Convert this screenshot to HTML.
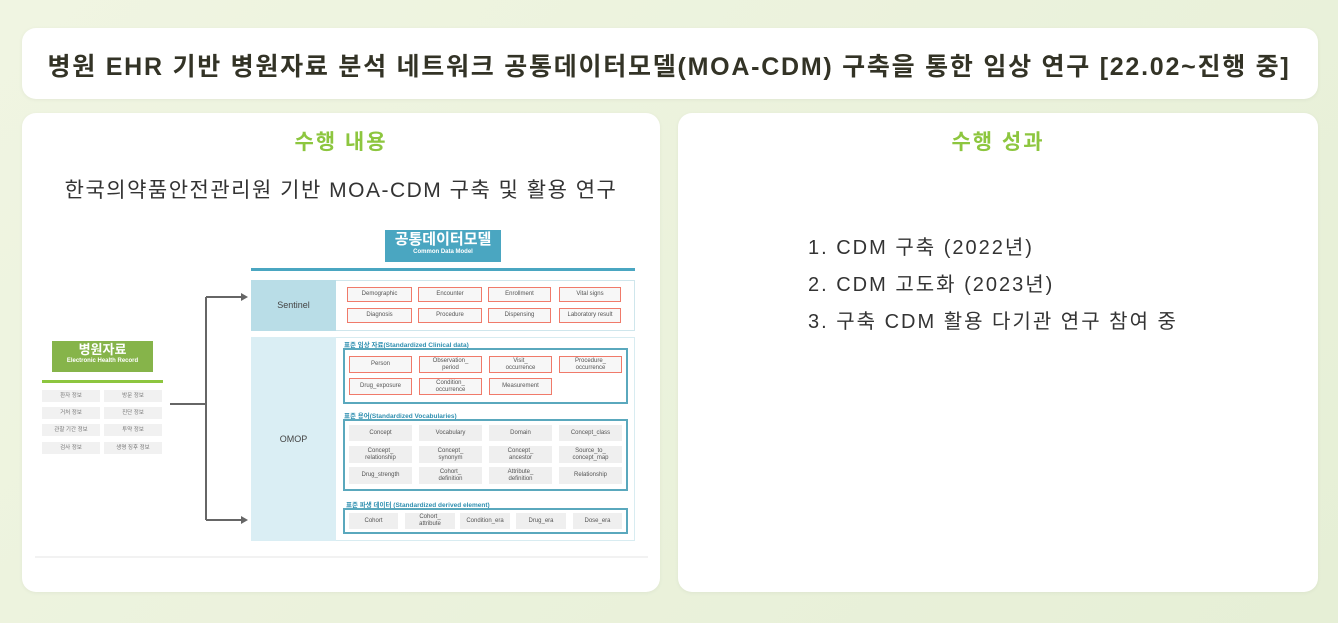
<!DOCTYPE html>
<html><head><meta charset="utf-8"><style>
*{margin:0;padding:0;box-sizing:border-box}
body{width:1338px;height:623px;background:linear-gradient(135deg,#f0f5e2,#e6efd6);font-family:"Liberation Sans","Noto Sans CJK KR",sans-serif;position:relative;overflow:hidden}
.a{position:absolute}
.card{position:absolute;background:#fff;border-radius:14px;box-shadow:0 1px 4px rgba(0,0,0,.05)}
.t{position:absolute;left:0;right:0;text-align:center}
.b{position:absolute;font-size:6px;color:#555;text-align:center;display:flex;align-items:center;justify-content:center;line-height:7px;background:#f2f2f2}
.r{border:1.5px solid #f07a6a;background:#f7f7f7}
.g{background:#efefef}
.box{position:absolute;border:2px solid #5aa8bd}
.lbl{position:absolute;font-size:6.5px;color:#2f8fb0;font-weight:bold;white-space:nowrap}
.eh{position:absolute;font-size:5.5px;color:#777;background:#f1f1f1;text-align:center;line-height:12px;width:58px;height:12px}
</style></head><body>
<div class="card" style="left:22px;top:28px;width:1296px;height:71px"></div>
<div class="t" style="top:47px;font-size:25px;font-weight:bold;color:#333326;letter-spacing:1.75px">병원 EHR 기반 병원자료 분석 네트워크 공통데이터모델(MOA-CDM) 구축을 통한 임상 연구 [22.02~진행 중]</div>

<div class="card" style="left:22px;top:113px;width:638px;height:479px"></div>
<div class="card" style="left:678px;top:113px;width:640px;height:479px"></div>
<div class="a" style="left:22px;width:638px;top:126px;text-align:center;font-size:21px;font-weight:bold;color:#8dc63f;letter-spacing:2px">수행 내용</div>
<div class="a" style="left:678px;width:640px;top:126px;text-align:center;font-size:21px;font-weight:bold;color:#8dc63f;letter-spacing:2px">수행 성과</div>
<div class="a" style="left:22px;width:638px;top:174px;text-align:center;font-size:21px;color:#333;letter-spacing:1.5px">한국의약품안전관리원 기반 MOA-CDM 구축 및 활용 연구</div>
<div class="a" style="left:808px;top:230px;font-size:20px;color:#333;line-height:37px;letter-spacing:2px">1. CDM 구축 (2022년)<br>2. CDM 고도화 (2023년)<br>3. 구축 CDM 활용 다기관 연구 참여 중</div>

<!-- diagram -->
<div class="a" style="left:385px;top:230px;width:116px;height:32px;background:#4aa6c1;color:#fff;text-align:center">
<div style="font-size:15px;font-weight:bold;line-height:19px">공통데이터모델</div><div style="font-size:6px;font-weight:bold">Common Data Model</div></div>
<div class="a" style="left:251px;top:268px;width:384px;height:3px;background:#4aa6c1"></div>

<div class="a" style="left:251px;top:280px;width:384px;height:51px;border:1px solid #cfe6ec;background:#fff"></div>
<div class="a" style="left:251px;top:280px;width:85px;height:51px;background:#b9dde7;font-size:9px;color:#444;text-align:center;line-height:51px">Sentinel</div>
<div class="a" style="left:251px;top:337px;width:384px;height:204px;border:1px solid #d8ecf1;background:#fff"></div>
<div class="a" style="left:251px;top:337px;width:85px;height:204px;background:#daeef4;font-size:9px;color:#444;text-align:center;line-height:204px">OMOP</div>

<div class="b r" style="left:347px;top:287px;width:65px;height:15px">Demographic</div>
<div class="b r" style="left:418px;top:287px;width:64px;height:15px">Encounter</div>
<div class="b r" style="left:488px;top:287px;width:63px;height:15px">Enrollment</div>
<div class="b r" style="left:559px;top:287px;width:62px;height:15px">Vital signs</div>
<div class="b r" style="left:347px;top:308px;width:65px;height:15px">Diagnosis</div>
<div class="b r" style="left:418px;top:308px;width:64px;height:15px">Procedure</div>
<div class="b r" style="left:488px;top:308px;width:63px;height:15px">Dispensing</div>
<div class="b r" style="left:559px;top:308px;width:62px;height:15px">Laboratory result</div>

<div class="lbl" style="left:344px;top:339px">표준 임상 자료(Standardized Clinical data)</div>
<div class="box" style="left:343px;top:348px;width:285px;height:56px"></div>
<div class="b r" style="left:349px;top:356px;width:63px;height:17px">Person</div>
<div class="b r" style="left:419px;top:356px;width:63px;height:17px">Observation_<br>period</div>
<div class="b r" style="left:489px;top:356px;width:63px;height:17px">Visit_<br>occurrence</div>
<div class="b r" style="left:559px;top:356px;width:63px;height:17px">Procedure_<br>occurrence</div>
<div class="b r" style="left:349px;top:378px;width:63px;height:17px">Drug_exposure</div>
<div class="b r" style="left:419px;top:378px;width:63px;height:17px">Condition_<br>occurrence</div>
<div class="b r" style="left:489px;top:378px;width:63px;height:17px">Measurement</div>

<div class="lbl" style="left:344px;top:410px">표준 용어(Standardized Vocabularies)</div>
<div class="box" style="left:343px;top:419px;width:285px;height:72px"></div>
<div class="b g" style="left:349px;top:425px;width:63px;height:16px">Concept</div>
<div class="b g" style="left:419px;top:425px;width:63px;height:16px">Vocabulary</div>
<div class="b g" style="left:489px;top:425px;width:63px;height:16px">Domain</div>
<div class="b g" style="left:559px;top:425px;width:63px;height:16px">Concept_class</div>
<div class="b g" style="left:349px;top:446px;width:63px;height:17px">Concept_<br>relationship</div>
<div class="b g" style="left:419px;top:446px;width:63px;height:17px">Concept_<br>synonym</div>
<div class="b g" style="left:489px;top:446px;width:63px;height:17px">Concept_<br>ancestor</div>
<div class="b g" style="left:559px;top:446px;width:63px;height:17px">Source_to_<br>concept_map</div>
<div class="b g" style="left:349px;top:467px;width:63px;height:17px">Drug_strength</div>
<div class="b g" style="left:419px;top:467px;width:63px;height:17px">Cohort_<br>definition</div>
<div class="b g" style="left:489px;top:467px;width:63px;height:17px">Attribute_<br>definition</div>
<div class="b g" style="left:559px;top:467px;width:63px;height:17px">Relationship</div>

<div class="lbl" style="left:346px;top:499px">표준 파생 데이터 (Standardized derived element)</div>
<div class="box" style="left:343px;top:508px;width:285px;height:26px"></div>
<div class="b g" style="left:349px;top:513px;width:49px;height:16px">Cohort</div>
<div class="b g" style="left:405px;top:513px;width:50px;height:16px">Cohort_<br>attribute</div>
<div class="b g" style="left:460px;top:513px;width:50px;height:16px">Condition_era</div>
<div class="b g" style="left:516px;top:513px;width:50px;height:16px">Drug_era</div>
<div class="b g" style="left:573px;top:513px;width:49px;height:16px">Dose_era</div>

<!-- EHR -->
<div class="a" style="left:52px;top:341px;width:101px;height:31px;background:#86b44a;color:#fff;text-align:center">
<div style="font-size:13px;font-weight:bold;line-height:17px">병원자료</div><div style="font-size:6px;font-weight:bold">Electronic Health Record</div></div>
<div class="a" style="left:42px;top:380px;width:121px;height:3px;background:#8dc63f"></div>
<div class="eh" style="left:42px;top:390px">환자 정보</div><div class="eh" style="left:104px;top:390px">방문 정보</div>
<div class="eh" style="left:42px;top:407px">거처 정보</div><div class="eh" style="left:104px;top:407px">진단 정보</div>
<div class="eh" style="left:42px;top:424px">관찰 기간 정보</div><div class="eh" style="left:104px;top:424px">투약 정보</div>
<div class="eh" style="left:42px;top:442px">검사 정보</div><div class="eh" style="left:104px;top:442px">생명 징후 정보</div>

<svg class="a" style="left:0;top:0" width="1338" height="623">
<g stroke="#666" stroke-width="2" fill="none">
<path d="M170 404 H206 M206 297 V520 M206 297 H243 M206 520 H243"/>
</g>
<path d="M248 297 L241 293 L241 301Z M248 520 L241 516 L241 524Z" fill="#666"/>
<line x1="35" y1="557" x2="648" y2="557" stroke="#eee" stroke-width="1.5"/>
</svg>
</body></html>
